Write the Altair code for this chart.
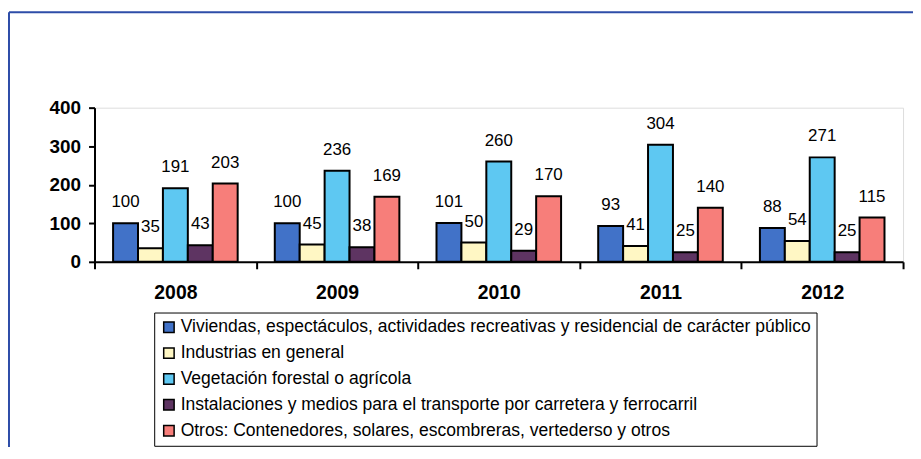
import altair as alt
import pandas as pd

years = ["2008", "2009", "2010", "2011", "2012"]
series = [
    "Viviendas, espectáculos, actividades recreativas y residencial de carácter público",
    "Industrias en general",
    "Vegetación forestal o agrícola",
    "Instalaciones y medios para el transporte por carretera y ferrocarril",
    "Otros: Contenedores, solares, escombreras, vertederso y otros",
]
viviendas = [100, 100, 101, 93, 88]
industrias = [35, 45, 50, 41, 54]
vegetacion = [191, 236, 260, 304, 271]
instalaciones = [43, 38, 29, 25, 25]
otros = [203, 169, 170, 140, 115]
colors = ["#4172C8", "#FFF7C4", "#5EC8F2", "#5E3462", "#F77E7A"]

values = [viviendas, industrias, vegetacion, instalaciones, otros]
rows = []
for s, vals in zip(series, values):
    for y, v in zip(years, vals):
        rows.append({"year": y, "series": s, "value": v})
df = pd.DataFrame(rows)

FONT = "Liberation Sans"
W, H = 813, 155

x_enc = alt.X(
    "year:N",
    sort=years,
    title=None,
    scale=alt.Scale(paddingInner=0, paddingOuter=0),
    axis=alt.Axis(
        tickBand="extent",
        labelAngle=0,
        labelFont=FONT,
        labelFontSize=19.5,
        labelFontWeight="bold",
        labelColor="black",
        labelPadding=15,
        domainColor="black",
        domainWidth=2,
        tickColor="black",
        tickWidth=2,
        tickSize=7,
    ),
)
xoff_enc = alt.XOffset(
    "series:N", sort=series, scale=alt.Scale(paddingInner=0, paddingOuter=0.745)
)
y_enc = alt.Y(
    "value:Q",
    title=None,
    scale=alt.Scale(domain=[0, 400], nice=False),
    axis=alt.Axis(
        values=[0, 100, 200, 300, 400],
        grid=False,
        labelOverlap=False,
        labelFont=FONT,
        labelFontSize=19,
        labelFontWeight="bold",
        labelColor="black",
        labelPadding=8,
        domainColor="black",
        domainWidth=2,
        tickColor="black",
        tickWidth=2,
        tickSize=6,
    ),
)

base = alt.Chart(df).encode(x=x_enc, xOffset=xoff_enc, y=y_enc)

bars = base.mark_bar(stroke="black", strokeWidth=2).encode(
    color=alt.Color(
        "series:N",
        sort=series,
        scale=alt.Scale(domain=series, range=colors),
        legend=alt.Legend(
            title=None,
            orient="none",
            legendX=60,
            legendY=206,
            direction="vertical",
            symbolType="square",
            symbolSize=110,
            symbolStrokeColor="black",
            symbolStrokeWidth=1.5,
            symbolOpacity=1,
            labelFont=FONT,
            labelFontSize=17.6,
            labelColor="black",
            labelLimit=900,
            labelOffset=3,
            rowPadding=7,
            padding=6,
            strokeColor="black",
            fillColor="white",
        ),
    ),
)

labels = base.mark_text(
    font=FONT, fontSize=17, color="black", baseline="middle", dy=-21
).encode(text=alt.Text("value:Q"))

frame_data = alt.Data(values=[{}])
frame_top = alt.Chart(frame_data).mark_rule(color="#2E4DA8", strokeWidth=2).encode(
    x=alt.value(-86), x2=alt.value(W + 30), y=alt.value(-96)
)
frame_left = alt.Chart(frame_data).mark_rule(color="#2E4DA8", strokeWidth=2).encode(
    x=alt.value(-86), y=alt.value(-96), y2=alt.value(H + 200)
)

chart = (
    alt.layer(frame_top, frame_left, bars, labels)
    .properties(
        width=W,
        height=H,
        autosize=alt.AutoSizeParams(type="none"),
        padding={"left": 87, "top": 99, "right": 10, "bottom": 185},
    )
    .configure_view(stroke=None)
    .configure_legend(strokeWidth=2)
    .configure(background="white")
)

chart.save("out.html", embed_options={"renderer": "svg", "actions": False})
